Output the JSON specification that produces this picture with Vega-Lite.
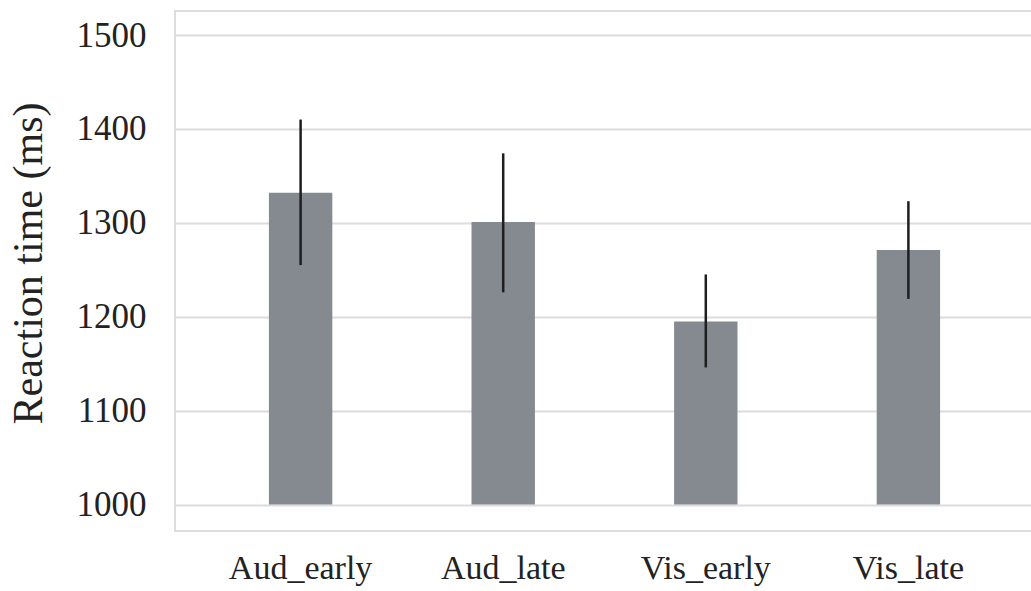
{
  "$schema": "https://vega.github.io/schema/vega-lite/v6.json",
  "autosize": {"type": "none"},
  "padding": {"left": 175, "top": 11, "right": 0, "bottom": 60},
  "width": 859,
  "height": 520,
  "background": "white",
  "config": {
    "view": {"stroke": "#dcdce0", "strokeWidth": 2},
    "font": "Liberation Serif"
  },
  "data": {
    "values": [
      {"condition": "Aud_early", "rt": 1332, "lo": 1255, "hi": 1410},
      {"condition": "Aud_late", "rt": 1301, "lo": 1226, "hi": 1374},
      {"condition": "Vis_early", "rt": 1195, "lo": 1146, "hi": 1245},
      {"condition": "Vis_late", "rt": 1271, "lo": 1219, "hi": 1323}
    ]
  },
  "encoding": {
    "x": {
      "field": "condition",
      "type": "nominal",
      "sort": null,
      "scale": {"paddingInner": 0.687, "paddingOuter": 0.4635},
      "axis": {
        "title": null,
        "labelAngle": 0,
        "domain": false,
        "ticks": false,
        "labelFont": "Liberation Serif",
        "labelFontSize": 34,
        "labelColor": "#222222",
        "labelPadding": 20
      }
    }
  },
  "layer": [
    {
      "mark": {"type": "bar", "color": "#858a90"},
      "encoding": {
        "y": {
          "field": "rt",
          "type": "quantitative",
          "scale": {"domain": [971.8, 1525.6], "nice": false, "zero": false},
          "axis": {
            "title": "Reaction time (ms)",
            "values": [1000, 1100, 1200, 1300, 1400, 1500],
            "format": "d",
            "domain": false,
            "ticks": false,
            "grid": true,
            "gridColor": "#dcdce0",
            "gridWidth": 2,
            "labelFont": "Liberation Serif",
            "labelFontSize": 35,
            "labelColor": "#222222",
            "labelPadding": 29,
            "titleFont": "Liberation Serif",
            "titleFontSize": 42,
            "titleFontWeight": "normal",
            "titleColor": "#222222",
            "titlePadding": 26,
            "titleY": 252
          }
        },
        "y2": {"datum": 1000}
      }
    },
    {
      "mark": {"type": "rule", "color": "#1e1e1e", "strokeWidth": 2.5},
      "encoding": {
        "y": {"field": "lo", "type": "quantitative"},
        "y2": {"field": "hi"}
      }
    }
  ]
}
